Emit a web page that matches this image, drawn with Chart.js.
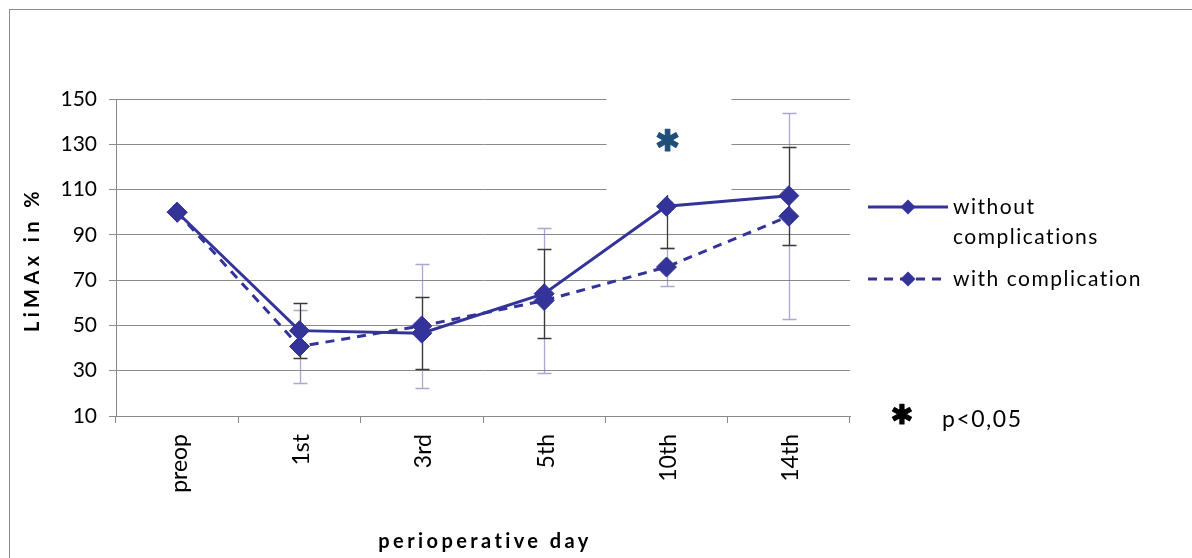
<html>
    <head>
        <script src="https://cdn.jsdelivr.net/npm/chart.js"></script>
    </head>
    <body style="margin: 0; background: #fff">
        <canvas id="limaxChart" width="1192" height="558"></canvas>

        <script>
            // perioperative LiMAx (% of preop), mean +/- SD
            const DAYS = ['preop', '1st', '3rd', '5th', '10th', '14th']
            const WITHOUT = [100, 47.7, 46.6, 64, 102.6, 107.3]
            const WITHOUT_SD = [null, 12.3, 15.8, 19.6, 18.6, 21.7]
            const WITH = [100, 40.7, 49.8, 61, 75.8, 98.2]
            const WITH_SD = [null, 16.3, 27.5, 32.2, 8.2, 45.4]
            const SIGNIFICANT = ['10th']
            const Y_MIN = 10
            const Y_MAX = 150
            const Y_STEP = 20

            const NAVY = '#333399'
            const GRID = '#8a8a8a'
            const FONT = 'Lato'

            function wrapWords(ctx, text, maxWidth) {
                const lines = []
                let cur = ''
                text.split(' ').forEach((w) => {
                    const next = cur ? cur + ' ' + w : w
                    if (cur && ctx.measureText(next).width > maxWidth) {
                        lines.push(cur)
                        cur = w
                    } else {
                        cur = next
                    }
                })
                lines.push(cur)
                return lines
            }

            function diamond(ctx, x, y, r) {
                ctx.beginPath()
                ctx.moveTo(x, y - r)
                ctx.lineTo(x + r, y)
                ctx.lineTo(x, y + r)
                ctx.lineTo(x - r, y)
                ctx.closePath()
                ctx.fill()
            }

            function star(ctx, x, y, size, color) {
                ctx.font = `bold ${size}px "DejaVu Sans"`
                ctx.textAlign = 'center'
                ctx.textBaseline = 'middle'
                ctx.fillStyle = color
                ctx.strokeStyle = color
                ctx.lineWidth = 1
                ctx.lineJoin = 'round'
                ctx.strokeText('\u2731', x, y)
                ctx.fillText('\u2731', x, y)
            }

            const decorations = {
                id: 'decorations',
                beforeDraw(chart) {
                    const { ctx } = chart
                    ctx.save()
                    ctx.strokeStyle = '#8c8c8c'
                    ctx.lineWidth = 1
                    ctx.strokeRect(9.5, 9.5, chart.width + 20, chart.height + 20)
                    ctx.restore()
                },
                beforeDatasetsDraw(chart) {
                    const { ctx } = chart
                    const x = chart.scales.x
                    const y = chart.scales.y
                    const sets = [
                        [WITH, WITH_SD, 'rgba(110, 110, 180, 0.6)'],
                        [WITHOUT, WITHOUT_SD, '#3a3a3a'],
                    ]
                    ctx.save()
                    sets.forEach(([vals, sd, color]) => {
                        ctx.strokeStyle = color
                        ctx.lineWidth = 1.3
                        vals.forEach((v, i) => {
                            if (sd[i] == null) return
                            const px = Math.round(x.getPixelForValue(i)) + 0.5
                            const top = Math.round(y.getPixelForValue(v + sd[i])) + 0.5
                            const bot = Math.round(y.getPixelForValue(v - sd[i])) + 0.5
                            ctx.beginPath()
                            ctx.moveTo(px, top)
                            ctx.lineTo(px, bot)
                            ctx.moveTo(px - 7, top)
                            ctx.lineTo(px + 7, top)
                            ctx.moveTo(px - 7, bot)
                            ctx.lineTo(px + 7, bot)
                            ctx.stroke()
                        })
                    })

                    // text box of the significance mark hides grid + upper bar
                    SIGNIFICANT.forEach((day) => {
                        const px = x.getPixelForValue(DAYS.indexOf(day))
                        ctx.fillStyle = '#fff'
                        ctx.fillRect(px - 60, chart.chartArea.top - 8, 125, 104)
                        star(ctx, px + 1, y.getPixelForValue(130.5), 30, '#1f4e79')
                    })
                    ctx.restore()
                },
                afterDraw(chart) {
                    const { ctx, chartArea } = chart
                    ctx.save()
                    ctx.fillStyle = '#000'

                    // axis titles
                    ctx.font = `bold 20px ${FONT}`
                    ctx.letterSpacing = '3.4px'
                    ctx.textAlign = 'center'
                    ctx.textBaseline = 'alphabetic'
                    ctx.fillText('perioperative day', (chartArea.left + chartArea.right) / 2 + 2, 548)
                    ctx.letterSpacing = '4.4px'
                    ctx.translate(39, (chartArea.top + chartArea.bottom) / 2 + 2)
                    ctx.rotate(-Math.PI / 2)
                    ctx.fillText('LiMAx in %', 0, 0)
                    ctx.setTransform(1, 0, 0, 1, 0, 0)

                    // legend
                    ctx.font = `21px ${FONT}`
                    ctx.letterSpacing = '1.5px'
                    ctx.textAlign = 'left'
                    const rows = [207, 279]
                    chart.data.datasets.forEach((ds, i) => {
                        const ly = rows[i]
                        ctx.strokeStyle = NAVY
                        ctx.fillStyle = NAVY
                        ctx.lineWidth = 3
                        ctx.setLineDash(ds.borderDash || [])
                        ctx.beginPath()
                        ctx.moveTo(868, ly)
                        ctx.lineTo(948, ly)
                        ctx.stroke()
                        ctx.setLineDash([])
                        diamond(ctx, 908, ly, 7.5)
                        ctx.fillStyle = '#000'
                        wrapWords(ctx, ds.label, 200).forEach((line, j) => {
                            ctx.fillText(line, 953, ly + 7 + j * 30)
                        })
                    })

                    // significance note
                    ctx.letterSpacing = '0px'
                    star(ctx, 902, 417, 27, '#000')
                    ctx.font = `23px ${FONT}`
                    ctx.letterSpacing = '1.5px'
                    ctx.textAlign = 'left'
                    ctx.textBaseline = 'alphabetic'
                    ctx.fillText('p<0,05', 942, 427)
                    ctx.restore()
                },
            }

            function lineDataset(label, data, dash) {
                return {
                    label,
                    data,
                    borderColor: NAVY,
                    backgroundColor: NAVY,
                    borderWidth: 3,
                    borderDash: dash,
                    pointStyle: 'rectRot',
                    pointRadius: 10,
                    pointHoverRadius: 10,
                    pointBorderWidth: 1,
                    pointBorderColor: NAVY,
                    pointBackgroundColor: NAVY,
                    tension: 0,
                }
            }

            new Chart(document.getElementById('limaxChart'), {
                type: 'line',
                data: {
                    labels: DAYS,
                    datasets: [
                        lineDataset('without complications', WITHOUT, []),
                        lineDataset('with complication', WITH, [9, 7]),
                    ],
                },
                options: {
                    responsive: false,
                    animation: false,
                    layout: { padding: { top: 99, right: 342, bottom: 0, left: 0 } },
                    plugins: {
                        legend: { display: false },
                        tooltip: { enabled: false },
                    },
                    scales: {
                        x: {
                            offset: true,
                            grid: { offset: true, drawOnChartArea: false, color: GRID, tickLength: 7 },
                            border: { color: GRID },
                            ticks: {
                                color: '#000',
                                font: { family: FONT, size: 23 },
                                minRotation: 90,
                                maxRotation: 90,
                                padding: 11,
                                labelOffset: 2,
                            },
                            afterFit: (scale) => {
                                scale.height = 142
                            },
                        },
                        y: {
                            min: Y_MIN,
                            max: Y_MAX,
                            ticks: {
                                stepSize: Y_STEP,
                                color: '#000',
                                font: { family: FONT, size: 21 },
                                padding: 12,
                            },
                            grid: { color: GRID, tickLength: 7 },
                            border: { color: GRID },
                            afterFit: (scale) => {
                                scale.width = 116
                            },
                        },
                    },
                },
                plugins: [decorations],
            })
        </script>
    </body>
</html>
